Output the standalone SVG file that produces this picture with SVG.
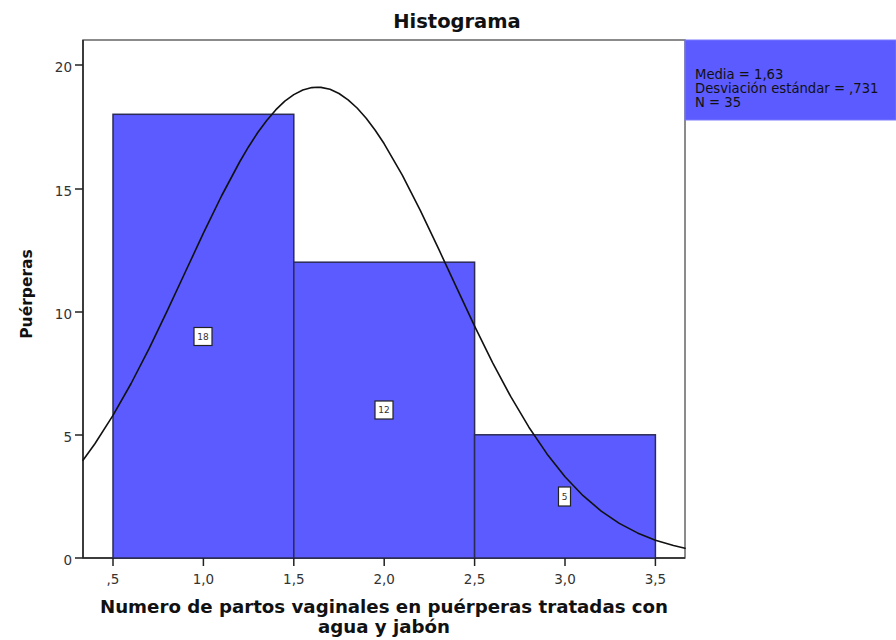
<svg xmlns="http://www.w3.org/2000/svg" width="896" height="640" viewBox="0 0 896 640">
<style>
.tick{stroke:#222;stroke-width:1.5}
.tl{font-family:"DejaVu Sans",Verdana,sans-serif;font-size:13.5px;fill:#333}
.bar{fill:#5b5bff;stroke:#2b2b55;stroke-width:1.5}
.cnt rect{fill:#fff;stroke:#222;stroke-width:1.2}
.cnt text{font-family:"DejaVu Sans",Verdana,sans-serif;font-size:9px;fill:#333;text-anchor:middle}
.lbl{font-family:"DejaVu Sans",Verdana,sans-serif;font-weight:bold;fill:#111}
.leg{font-family:"DejaVu Sans",Verdana,sans-serif;font-size:13.2px;fill:#111}
</style>
<rect width="896" height="640" fill="#fff"/>
<text class="lbl" x="457" y="28" font-size="19.5" text-anchor="middle">Histograma</text>
<g id="frame">
<rect x="83" y="40" width="602" height="518" fill="none" stroke="#666" stroke-width="1.5"/>
<line x1="83" y1="40" x2="83" y2="558" stroke="#222" stroke-width="1.5"/>
<line x1="83" y1="558" x2="685" y2="558" stroke="#222" stroke-width="1.5"/>
</g>
<g id="yaxis">
<line class="tick" x1="75" y1="558" x2="83" y2="558"/>
<line class="tick" x1="75" y1="435" x2="83" y2="435"/>
<line class="tick" x1="75" y1="312" x2="83" y2="312"/>
<line class="tick" x1="75" y1="189" x2="83" y2="189"/>
<line class="tick" x1="75" y1="65" x2="83" y2="65"/>
<text class="tl" x="72" y="565" text-anchor="end">0</text>
<text class="tl" x="72" y="442" text-anchor="end">5</text>
<text class="tl" x="72" y="319" text-anchor="end">10</text>
<text class="tl" x="72" y="196" text-anchor="end">15</text>
<text class="tl" x="72" y="72" text-anchor="end">20</text>
<text class="lbl" font-size="15.5" text-anchor="middle" transform="translate(31.5,294) rotate(-90)">Puérperas</text>
</g>
<g id="bars">
<rect class="bar" x="113" y="114.3" width="180.8" height="443.7"/>
<rect class="bar" x="293.8" y="262.2" width="180.8" height="295.8"/>
<rect class="bar" x="474.6" y="434.8" width="180.8" height="123.2"/>
</g>
<g id="xaxis">
<line class="tick" x1="113" y1="558" x2="113" y2="566"/>
<line class="tick" x1="203.4" y1="558" x2="203.4" y2="566"/>
<line class="tick" x1="293.8" y1="558" x2="293.8" y2="566"/>
<line class="tick" x1="384.2" y1="558" x2="384.2" y2="566"/>
<line class="tick" x1="474.6" y1="558" x2="474.6" y2="566"/>
<line class="tick" x1="565" y1="558" x2="565" y2="566"/>
<line class="tick" x1="655.4" y1="558" x2="655.4" y2="566"/>
<text class="tl" x="113" y="584" text-anchor="middle">,5</text>
<text class="tl" x="203.4" y="584" text-anchor="middle">1,0</text>
<text class="tl" x="293.8" y="584" text-anchor="middle">1,5</text>
<text class="tl" x="384.2" y="584" text-anchor="middle">2,0</text>
<text class="tl" x="474.6" y="584" text-anchor="middle">2,5</text>
<text class="tl" x="565" y="584" text-anchor="middle">3,0</text>
<text class="tl" x="655.4" y="584" text-anchor="middle">3,5</text>
<text class="lbl" font-size="18.2" x="384" y="613" text-anchor="middle">Numero de partos vaginales en puérperas tratadas con</text>
<text class="lbl" font-size="18.2" x="384" y="633" text-anchor="middle">agua y jabón</text>
</g>
<g id="curve">
<polyline fill="none" stroke="#111" stroke-width="1.6" stroke-linejoin="round" stroke-linecap="round" points="83,460.2 94.9,443.7 113,415.4 131.1,383.5 149.2,348.4 167.2,310.9 185.3,272.0 203.4,233.2 221.5,196.0 239.6,162.0 248.6,146.7 257.6,132.8 266.7,120.5 275.7,109.9 284.8,101.2 293.8,94.6 302.8,90.0 311.9,87.6 317.3,87.2 320.9,87.4 330,89.3 339,93.5 348.1,99.8 357.1,108.0 366.2,118.2 375.2,130.2 384.2,143.8 402.3,175.1 420.4,210.6 438.5,248.7 456.6,287.6 474.6,326.1 492.7,362.8 510.8,396.7 528.9,427.2 547,453.9 565,476.7 583.1,495.7 601.2,511.1 619.3,523.4 637.4,532.9 655.4,540.2 673.5,545.5 685,548.2"/>
</g>
<g id="counts" class="cnt">
<g id="c18"><rect x="194" y="327.5" width="18" height="18"/><text x="203" y="339.5">18</text></g>
<g id="c12"><rect x="375" y="401" width="18" height="18"/><text x="384" y="413">12</text></g>
<g id="c5"><rect x="558.5" y="487" width="12" height="19"/><text x="564.5" y="499.5">5</text></g>
</g>
<g id="legend">
<rect x="685" y="40" width="211" height="80" fill="#5b5bff" stroke="#7a7aff" stroke-width="1"/>
<text class="leg" x="695" y="78.5">Media = 1,63</text>
<text class="leg" x="695" y="92.5">Desviación estándar = ,731</text>
<text class="leg" x="695" y="106.5">N = 35</text>
</g>
</svg>
